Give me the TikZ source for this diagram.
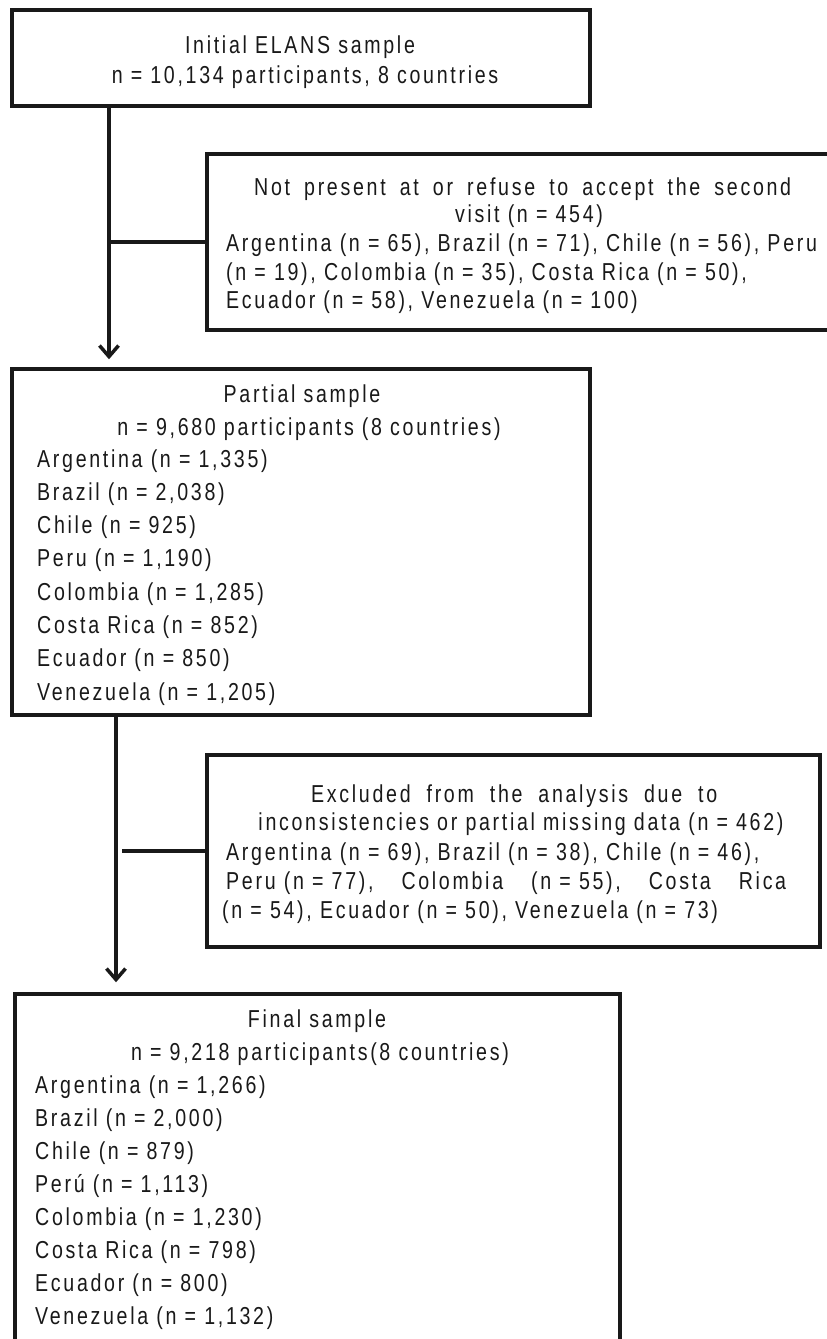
\documentclass[tikz,border=0pt]{standalone}
\usepackage{fontspec}
\setmainfont{Liberation Sans}[FakeStretch=0.8,LetterSpace=11]
\usetikzlibrary{arrows.meta}
\tikzset{
  boxst/.style={draw=black!90, line width=3.5pt, rectangle, inner sep=0pt},
  txt/.style={inner sep=0pt, text=black!90, font=\fontsize{24.5}{29}\selectfont},
  conn/.style={draw=black!90, line width=3.5pt},
  arr/.style={conn, -{Straight Barb[length=11pt,width=19pt]}},
}
\begin{document}
\begin{tikzpicture}[x=1pt,y=-1pt]
\useasboundingbox (0,0) rectangle (827,1339);
\fill[white] (0,0) rectangle (827,1339);
\clip (0,0) rectangle (827,1339);
% boxes
\node[boxst, minimum width=578, minimum height=96] (init) at (301,58) {};
\node[boxst, minimum width=663, minimum height=176] (excl1) at (538.5,242) {};
\node[boxst, minimum width=578, minimum height=346] (partial) at (301,542) {};
\node[boxst, minimum width=613, minimum height=192] (excl2) at (513.5,851) {};
\node[boxst, minimum width=605, minimum height=386] (final) at (317.5,1187) {};
% texts box 1
\node[txt,anchor=base] (i1) at (300,53) {Initial ELANS sample};
\node[txt,anchor=base] (i2) at (305,83) {n = 10,134 participants, 8 countries};
% texts exclusion 1
\node[txt,anchor=base west] (e1a) at (254,195) {\makebox[537pt][s]{Not present at or refuse to accept the second}};
\node[txt,anchor=base] (e1b) at (529,222) {visit (n = 454)};
\node[txt,anchor=base west] (e1c) at (226,251) {Argentina (n = 65), Brazil (n = 71), Chile (n = 56), Peru};
\node[txt,anchor=base west] (e1d) at (226,280) {(n = 19), Colombia (n = 35), Costa Rica (n = 50),};
\node[txt,anchor=base west] (e1e) at (226,308) {Ecuador (n = 58), Venezuela (n = 100)};
% partial
\node[txt,anchor=base] (p1) at (302,402) {Partial sample};
\node[txt,anchor=base] (p2) at (309,435) {n = 9,680 participants (8 countries)};
\foreach \t [count=\i from 0] in {{Argentina (n = 1,335)},{Brazil (n = 2,038)},{Chile (n = 925)},{Peru (n = 1,190)},{Colombia (n = 1,285)},{Costa Rica (n = 852)},{Ecuador (n = 850)},{Venezuela (n = 1,205)}}
  \node[txt,anchor=base west] (pl\i) at (37,467+33.3*\i) {\t};
% exclusion 2
\node[txt,anchor=base west] (x1) at (311,802) {\makebox[406pt][s]{Excluded from the analysis due to}};
\node[txt,anchor=base] (x2) at (521,830) {inconsistencies or partial missing data (n = 462)};
\node[txt,anchor=base west] (x3) at (226,860) {Argentina (n = 69), Brazil (n = 38), Chile (n = 46),};
\node[txt,anchor=base west] (x4) at (226,889) {\makebox[560pt][l]{Peru (n = 77),\hfill Colombia\hfill (n = 55),\hfill Costa\hfill Rica}};
\node[txt,anchor=base west] (x5) at (222,918) {(n = 54), Ecuador (n = 50), Venezuela (n = 73)};
% final
\node[txt,anchor=base] (f1) at (317,1027) {Final sample};
\node[txt,anchor=base] (f2) at (320,1060) {n = 9,218 participants(8 countries)};
\foreach \t [count=\i from 0] in {{Argentina (n = 1,266)},{Brazil (n = 2,000)},{Chile (n = 879)},{Perú (n = 1,113)},{Colombia (n = 1,230)},{Costa Rica (n = 798)},{Ecuador (n = 800)},{Venezuela (n = 1,132)}}
  \node[txt,anchor=base west] (fl\i) at (35,1093+33.1*\i) {\t};
% connectors
\coordinate (j1) at (109,242);
\coordinate (j2) at (116,851);
\draw[arr, shorten >=8pt] (j1 |- init.south) -- (j1 |- partial.north);
\draw[conn] (j1) -- (excl1.west);
\draw[arr, shorten >=10pt] (j2 |- partial.south) -- (j2 |- final.north);
\draw[conn] ([xshift=6pt]j2) -- (excl2.west);
\end{tikzpicture}
\end{document}
